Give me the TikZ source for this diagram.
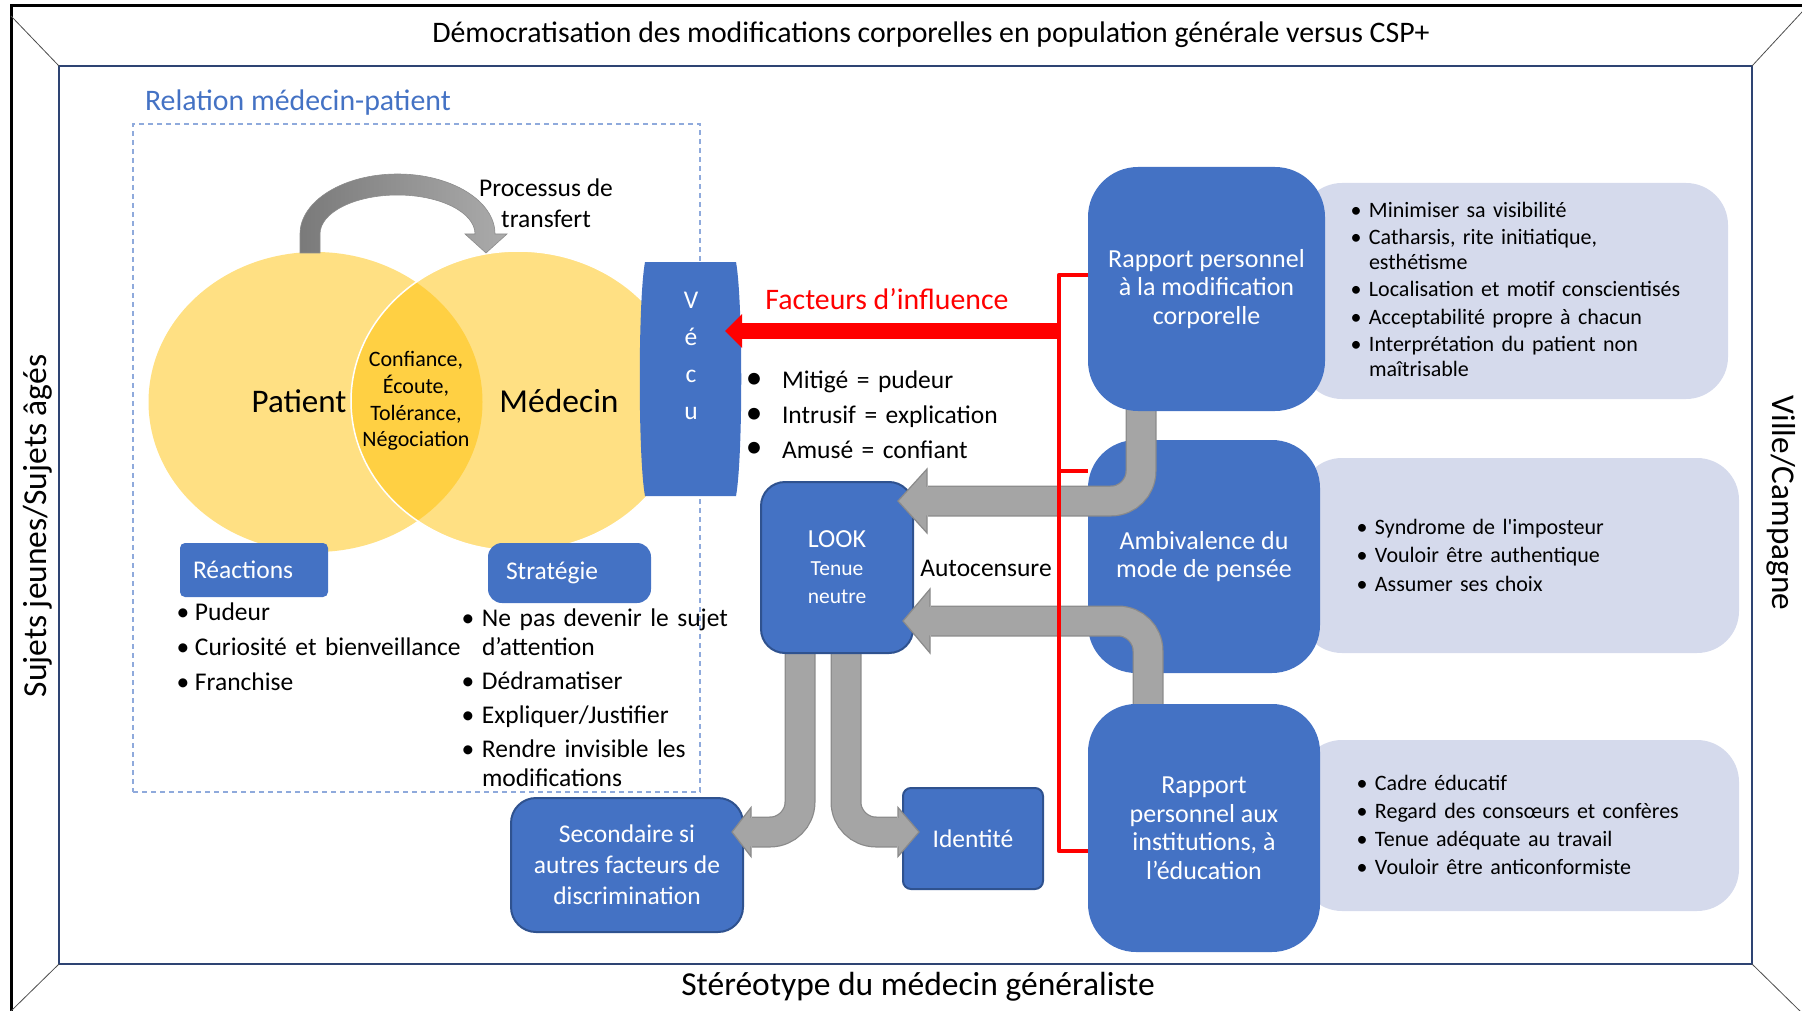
\documentclass[tikz,border=0pt]{standalone}
\usepackage{fontspec}
\setmainfont{Carlito}
\definecolor{cBlue}{HTML}{4472C4}
\definecolor{cBlueEdge}{HTML}{2F528F}
\definecolor{cGrey}{HTML}{D5DAEC}
\definecolor{cPipe}{HTML}{A5A5A5}
\definecolor{cPipeEdge}{HTML}{8A8A8A}
\definecolor{cVenn}{HTML}{FFE083}
\definecolor{cLens}{HTML}{FFD043}
\definecolor{cFrame}{HTML}{2E4473}
\definecolor{cDash}{HTML}{8FAADC}
\definecolor{cArrDark}{HTML}{7A7A7A}
\definecolor{cArrLight}{HTML}{ABABAB}
\definecolor{cRed}{HTML}{FF0000}
\pgfdeclarelayer{bg}\pgfdeclarelayer{la}\pgfdeclarelayer{lb}\pgfdeclarelayer{lc}\pgfdeclarelayer{ld}
\pgfsetlayers{bg,la,lb,lc,ld,main}
\newlength\bulw \newlength\itgap
\newcommand\bulsym{\textbullet}
\newcommand\itm[1]{\hangindent=\bulw\hangafter=1\noindent\makebox[\bulw][l]{\makebox[0pt][c]{\bulsym}}#1\par}
\newcommand\nitm[1]{\vspace{\itgap}\itm{#1}}
\tikzset{
  diag/.style={line width=0.8pt, draw=black!70},
  bigbox/.style={fill=cBlue, text=white, align=center, font=\fontsize{26}{28.5}\selectfont},
  edgebox/.style={fill=cBlue, draw=cBlueEdge, line width=2pt, text=white, align=center, font=\fontsize{25.5}{31}\selectfont},
  greypanel/.style={fill=cGrey, rounded corners=42pt},
  tagbox/.style={fill=cBlue, text=white, align=left, font=\fontsize{25.5}{30}\selectfont},
  listtext/.style={anchor=base west, text width=330pt},
  pipeout/.style={draw=cPipeEdge, line width=31pt, rounded corners=30pt},
  pipein/.style={draw=cPipe, line width=28.5pt, rounded corners=30pt},
  pipehead/.style={fill=cPipe, draw=cPipeEdge, line width=1.2pt, line join=miter},
  redline/.style={draw=cRed, line width=4.5pt},
}
\begin{document}
\begin{tikzpicture}[x=1pt,y=-1pt,inner sep=0pt,outer sep=0pt]
\useasboundingbox (0,0) rectangle (1802,1011);

\begin{pgfonlayer}{bg}
% frame
\draw[line width=3pt] (1802,6) -- (11,6) -- (11,1011);
\draw[cFrame, line width=2pt] (59,66) rectangle (1752,964);
\draw[diag] (11,16) -- (59,66);
\draw[diag] (1802,12) -- (1752,66);
\draw[diag] (11,1011) -- (59,964);
\draw[diag] (1802,1013) -- (1752,964);

% dashed frame of the relation
\node[draw=cDash, line width=1.3pt, dash pattern=on 5pt off 4pt, minimum width=567pt, minimum height=668pt] (dash) at (416.5,458) {};

% Venn
\fill[cVenn] (315.5,402) ellipse [x radius=167, y radius=150];
\fill[cVenn] (518,401) ellipse [x radius=167, y radius=150];
\begin{scope}
  \clip (315.5,402) ellipse [x radius=167, y radius=150];
  \fill[cLens] (518,401) ellipse [x radius=167, y radius=150];
\end{scope}
\draw[white, line width=1.5pt] (518,401) ellipse [x radius=167, y radius=150];

% transfer arrow
\shadedraw[left color=cArrDark, right color=cArrLight, draw=black!45, line width=0.6pt]
  (300,253) -- (300,234) arc[start angle=180, end angle=360, x radius=97.5, y radius=60]
  -- (507,234) -- (486,253) -- (465,234) -- (475,234)
  arc[start angle=0, end angle=-180, x radius=77.5, y radius=39]
  -- (320,253) -- cycle;

% grey panels
\node[greypanel, minimum width=428pt, minimum height=216pt] (g1) at (1514,291) {};
\node[greypanel, minimum width=439pt, minimum height=195pt] (g2) at (1519.5,555.5) {};
\node[greypanel, minimum width=439pt, minimum height=171pt] (g3) at (1519.5,825.5) {};

% Reactions / Strategie
\node[tagbox, rounded corners=5pt, minimum width=148pt, minimum height=54pt, inner xsep=13pt, text width=122pt] (react) at (254,570) {Réactions};
\node[tagbox, rounded corners=14pt, minimum width=163pt, minimum height=60pt, inner xsep=18pt, text width=127pt] (strat) at (569.5,573) {Stratégie};
\end{pgfonlayer}

\begin{pgfonlayer}{la}
\node[bigbox, minimum width=232pt, minimum height=233pt, rounded corners=48pt] (r2) at (1204,556.5) {Ambivalence du\\mode de pensée};
\node[edgebox, minimum width=232pt, minimum height=134pt, rounded corners=25pt] (sec) at (627,865) {Secondaire si\\autres facteurs de\\discrimination};
\node[edgebox, minimum width=140pt, minimum height=101pt, rounded corners=8pt] (ident) at (973,838.5) {Identité};
\end{pgfonlayer}

\begin{pgfonlayer}{lc}
\node[edgebox, minimum width=152pt, minimum height=171pt, rounded corners=24pt, font=\fontsize{21.5}{28}\selectfont] (look) at (837,567.5) {{\fontsize{26}{28}\selectfont LOOK}\\Tenue\\neutre};
\end{pgfonlayer}

% right blue boxes
\node[bigbox, minimum width=237pt, minimum height=244pt, rounded corners=50pt] (r1) at (1206.5,289) {Rapport personnel\\à la modification\\corporelle};
\node[bigbox, minimum width=232pt, minimum height=248pt, rounded corners=48pt] (r3) at (1204,828) {Rapport\\personnel aux\\institutions, à\\l’éducation};

% pipes from LOOK (under LOOK, over Secondaire / Identite)
\begin{pgfonlayer}{lb}
\draw[pipeout] (look.center -| 800,0) -- (800,832) -- (752,832);
\filldraw[pipehead] (751,807.5) -- (732,832) -- (751,856.5) -- cycle;
\draw[pipein] (look.center -| 800,0) -- (800,832) -- (750,832);
\draw[pipeout] (look.center -| 846,0) -- (846,832) -- (897,832);
\filldraw[pipehead] (898,807.5) -- (919,832) -- (898,856.5) -- cycle;
\draw[pipein] (look.center -| 846,0) -- (846,832) -- (899,832);
\end{pgfonlayer}

% pipes into LOOK (over LOOK and Ambivalence, under r1 / r3)
\begin{pgfonlayer}{ld}
\draw[pipeout] (r1.center -| 1141,0) -- (1141,501) -- (928,501);
\filldraw[pipehead] (927,469) -- (898,501) -- (927,533) -- cycle;
\draw[pipein] (r1.center -| 1141,0) -- (1141,501) -- (926,501);
\draw[pipeout] (r3.center -| 1148,0) -- (1148,621) -- (931,621);
\filldraw[pipehead] (930,589) -- (903,621) -- (930,653) -- cycle;
\draw[pipein] (r3.center -| 1148,0) -- (1148,621) -- (929,621);
\end{pgfonlayer}

% red bracket
\draw[redline, line join=round] (r1.west |- 0,275) -- (1059,275) -- (1059,851) -- (r3.west |- 0,851);
\draw[redline] (1059,471) -- (r2.west |- 0,471);

% Vecu box
\path[fill=cBlue] (645,262) -- (736,262) .. controls (743,300) and (743,458) .. (736,496)
  -- (645,496) .. controls (638,458) and (638,300) .. (645,262) -- cycle;
\node[text=white, align=center, font=\fontsize{25.5}{37}\selectfont] (vecu) at (691,356) {V\\é\\c\\u};
\coordinate (vecuE) at (742,331);
\coordinate (brk) at (1059,331);
\draw[cRed, line width=16pt] (brk) -- ([xshift=-1pt]vecuE);
\fill[cRed] (vecuE) ++(0,-17) -- (725,331) -- (742,348) -- cycle;

% texts
\node[font=\fontsize{29.8}{33}\selectfont] (ttl) at (931,35) {Démocratisation des modifications corporelles en population générale versus CSP+};
\node[font=\fontsize{33.5}{37}\selectfont] (bot) at (918,987) {Stéréotype du médecin généraliste};
\node[font=\fontsize{33.5}{37}\selectfont, rotate=90] (lft) at (38,526) {Sujets jeunes/Sujets âgés};
\node[font=\fontsize{33.2}{37}\selectfont, rotate=-90] (rgt) at (1781,503) {Ville/Campagne};
\node[font=\fontsize{29.8}{33}\selectfont, text=cBlue, anchor=west] (rel) at (145,103) {Relation médecin-patient};
\node[font=\fontsize{25.5}{31}\selectfont, align=center] (proc) at (546,203) {Processus de\\transfert};
\node[font=\fontsize{33}{36}\selectfont] (pat) at (299,401) {Patient};
\node[font=\fontsize{33.5}{36}\selectfont] (med) at (559,401) {Médecin};
\node[font=\fontsize{22}{26.7}\selectfont, align=center] (lensl) at (416,401) {Confiance,\\Écoute,\\Tolérance,\\Négociation};
\node[font=\fontsize{29.8}{33}\selectfont, text=cRed] (fact) at (887,299) {Facteurs d’influence};
\node[font=\fontsize{25.5}{30}\selectfont] (auto) at (986,568) {Autocensure};

% lists
\node[listtext, font=\fontsize{25.5}{35}\selectfont] (reacl) at (183,620)
  {\setlength\bulw{12pt}\setlength\itgap{0pt}\itm{Pudeur}\itm{Curiosité et bienveillance}\itm{Franchise}};
\node[listtext, font=\fontsize{25.5}{29}\selectfont] (stratl) at (468,626)
  {\setlength\bulw{14pt}\setlength\itgap{5pt}\itm{Ne pas devenir le sujet\newline d’attention}\nitm{Dédramatiser}\nitm{Expliquer/Justifier}\nitm{Rendre invisible les\newline modifications}};
\node[listtext, font=\fontsize{25.5}{35}\selectfont] (vecul) at (754,388)
  {\renewcommand\bulsym{\scalebox{1.3}{\textbullet}}\setlength\bulw{28pt}\setlength\itgap{0pt}\itm{Mitigé = pudeur}\itm{Intrusif = explication}\itm{Amusé = confiant}};
\node[listtext, font=\fontsize{22}{24.5}\selectfont] (g1l) at (1356,217.5)
  {\setlength\bulw{13pt}\setlength\itgap{3pt}\itm{Minimiser sa visibilité}\nitm{Catharsis, rite initiatique,\newline esthétisme}\nitm{Localisation et motif conscientisés}\nitm{Acceptabilité propre à chacun}\nitm{Interprétation du patient non\newline maîtrisable}};
\node[listtext, font=\fontsize{22}{28.5}\selectfont] (g2l) at (1362,534)
  {\setlength\bulw{13pt}\setlength\itgap{0pt}\itm{Syndrome de l\textquotesingle imposteur}\itm{Vouloir être authentique}\itm{Assumer ses choix}};
\node[listtext, font=\fontsize{22}{28}\selectfont] (g3l) at (1362,790)
  {\setlength\bulw{13pt}\setlength\itgap{0pt}\itm{Cadre éducatif}\itm{Regard des consœurs et confères}\itm{Tenue adéquate au travail}\itm{Vouloir être anticonformiste}};
\end{tikzpicture}
\end{document}
